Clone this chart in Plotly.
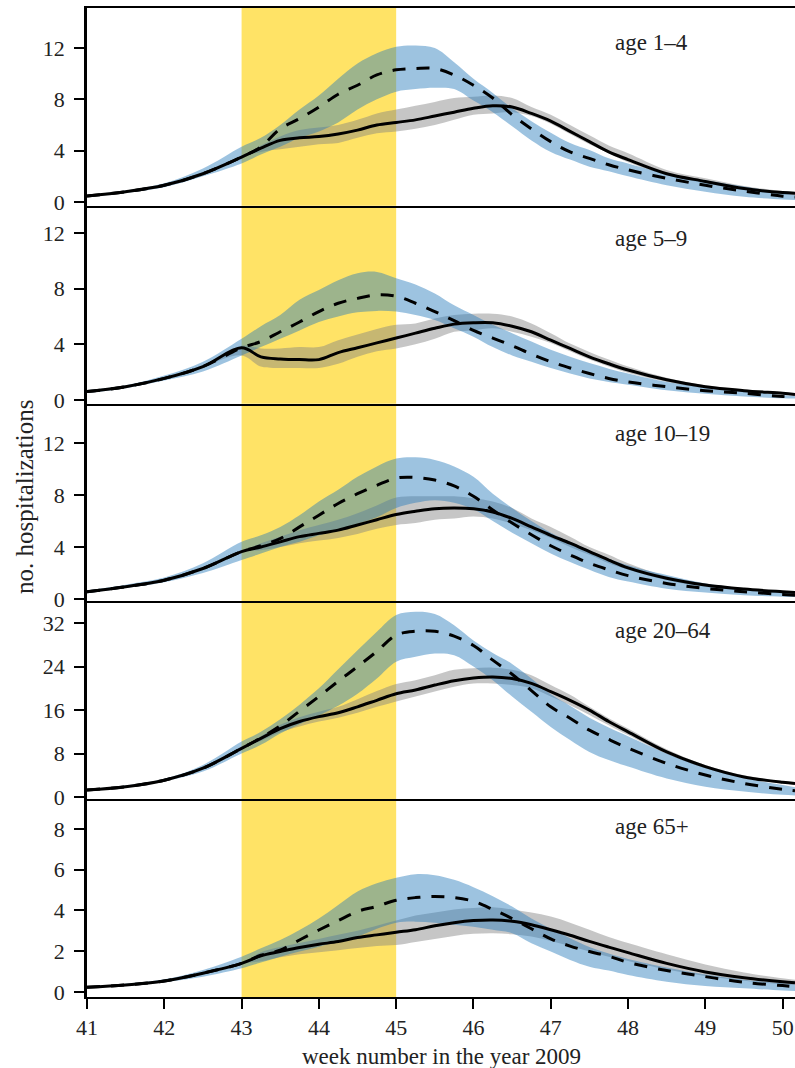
import plotly.graph_objects as go
from plotly.subplots import make_subplots

weeks = [41, 41.5, 42, 42.5, 43, 43.25, 43.5, 43.75, 44, 44.25, 44.5, 44.75, 45, 45.25, 45.5,
         45.75, 46, 46.25, 46.5, 46.75, 47, 47.25, 47.5, 47.75, 48, 48.5, 49, 49.5, 50, 50.16]

age_labels = ["age 1\u20134", "age 5\u20139", "age 10\u201319", "age 20\u201364", "age 65+"]

# age 1-4
a1_int = [0.47, 0.8, 1.3, 2.2, 3.5, 4.2, 4.8, 5.0, 5.1, 5.3, 5.6, 6.0, 6.2, 6.4, 6.7, 7.0, 7.3, 7.5, 7.4, 6.9, 6.3, 5.5, 4.7, 3.9, 3.3, 2.2, 1.6, 1.05, 0.73, 0.68]
a1_int_hi = [0.47, 0.8, 1.3, 2.2, 3.5, 4.4, 5.1, 5.6, 5.8, 6.0, 6.4, 6.9, 7.2, 7.5, 7.8, 8.1, 8.2, 8.3, 8.1, 7.4, 6.8, 6.0, 5.2, 4.4, 3.8, 2.5, 1.85, 1.25, 0.85, 0.78]
a1_int_lo = [0.47, 0.8, 1.3, 2.2, 3.5, 3.9, 4.1, 4.3, 4.5, 4.6, 5.0, 5.35, 5.5, 5.7, 6.0, 6.4, 6.8, 6.9, 7.0, 6.7, 6.1, 5.3, 4.5, 3.8, 3.1, 2.1, 1.45, 0.95, 0.6, 0.55]
a1_base = [0.47, 0.8, 1.3, 2.2, 3.5, 4.3, 5.7, 6.5, 7.4, 8.4, 9.1, 9.9, 10.3, 10.4, 10.4, 9.9, 9.1, 8.1, 6.8, 5.7, 4.7, 3.9, 3.4, 2.9, 2.5, 1.85, 1.3, 0.85, 0.45, 0.38]
a1_base_hi = [0.55, 0.9, 1.45, 2.6, 4.3, 5.0, 6.0, 7.2, 8.3, 9.6, 10.8, 11.6, 12.1, 12.2, 12.0, 10.9, 9.6, 8.5, 7.3, 6.3, 5.4, 4.6, 4.05, 3.4, 3.0, 2.2, 1.7, 1.2, 0.7, 0.55]
a1_base_lo = [0.4, 0.7, 1.15, 2.0, 3.0, 3.7, 4.3, 5.0, 5.5, 6.2, 7.2, 8.0, 8.6, 8.8, 8.9, 8.8, 7.9, 7.0, 5.9, 4.8, 3.9, 3.3, 2.75, 2.4, 2.0, 1.3, 0.8, 0.4, 0.2, 0.15]

# age 5-9
a2_int = [0.6, 0.95, 1.55, 2.4, 3.75, 3.1, 2.95, 2.9, 2.9, 3.4, 3.75, 4.1, 4.45, 4.8, 5.15, 5.45, 5.55, 5.55, 5.3, 4.9, 4.3, 3.7, 3.1, 2.6, 2.15, 1.45, 0.95, 0.67, 0.48, 0.4]
a2_int_hi = [0.6, 0.95, 1.55, 2.4, 3.9, 3.7, 3.7, 3.8, 3.8, 4.3, 4.7, 5.1, 5.4, 5.5, 5.85, 6.1, 6.2, 6.2, 6.0, 5.5, 4.8, 4.05, 3.45, 2.9, 2.4, 1.6, 1.05, 0.75, 0.55, 0.48]
a2_int_lo = [0.6, 0.95, 1.55, 2.4, 3.2, 2.4, 2.3, 2.3, 2.3, 2.6, 3.1, 3.5, 3.7, 4.0, 4.4, 4.9, 5.0, 5.15, 4.9, 4.55, 4.1, 3.5, 2.9, 2.4, 1.95, 1.3, 0.85, 0.6, 0.42, 0.36]
a2_base = [0.6, 0.95, 1.55, 2.4, 3.75, 4.2, 4.9, 5.6, 6.35, 6.95, 7.3, 7.55, 7.45, 6.95, 6.35, 5.7, 5.0, 4.45, 3.9, 3.3, 2.75, 2.3, 1.9, 1.55, 1.3, 0.95, 0.67, 0.48, 0.25, 0.2]
a2_base_hi = [0.7, 1.05, 1.75, 2.75, 4.4, 5.3, 6.1, 7.2, 7.9, 8.6, 9.1, 9.2, 8.75, 8.3, 7.65, 6.8, 6.1, 5.4, 4.8, 4.2, 3.6, 3.1, 2.65, 2.25, 1.9, 1.3, 0.9, 0.67, 0.36, 0.3]
a2_base_lo = [0.5, 0.85, 1.4, 2.05, 3.2, 3.8, 4.4, 5.0, 5.6, 6.0, 6.3, 6.4, 6.35, 6.1, 5.75, 5.15, 4.55, 3.8, 3.2, 2.75, 2.3, 1.9, 1.55, 1.3, 1.1, 0.7, 0.45, 0.25, 0.12, 0.1]

# age 10-19
a3_int = [0.56, 0.95, 1.45, 2.35, 3.65, 4.0, 4.4, 4.8, 5.05, 5.3, 5.7, 6.1, 6.5, 6.75, 6.95, 7.0, 6.95, 6.7, 6.2, 5.55, 4.9, 4.3, 3.65, 3.0, 2.4, 1.6, 1.08, 0.77, 0.56, 0.5]
a3_int_hi = [0.56, 0.95, 1.45, 2.35, 3.65, 4.3, 4.8, 5.3, 5.7, 6.1, 6.6, 7.2, 7.8, 7.9, 7.9, 7.9, 7.75, 7.5, 7.0, 6.2, 5.55, 4.8, 4.0, 3.4, 2.75, 1.75, 1.2, 0.85, 0.6, 0.55]
a3_int_lo = [0.56, 0.95, 1.45, 2.35, 3.65, 3.75, 4.0, 4.3, 4.5, 4.7, 5.0, 5.4, 5.7, 5.85, 6.1, 6.2, 6.35, 6.2, 5.8, 5.3, 4.7, 4.0, 3.4, 2.75, 2.25, 1.45, 0.95, 0.7, 0.5, 0.45]
a3_base = [0.56, 0.95, 1.45, 2.35, 3.65, 4.1, 4.65, 5.55, 6.45, 7.35, 8.1, 8.75, 9.3, 9.35, 9.15, 8.7, 7.9, 6.85, 5.85, 4.95, 4.1, 3.4, 2.75, 2.25, 1.8, 1.2, 0.82, 0.56, 0.36, 0.3]
a3_base_hi = [0.65, 1.1, 1.65, 2.75, 4.4, 4.9, 5.55, 6.45, 7.5, 8.4, 9.4, 10.2, 10.8, 10.9, 10.7, 10.2, 9.4, 8.1, 7.0, 6.0, 5.1, 4.4, 3.75, 3.1, 2.6, 1.85, 1.2, 0.82, 0.56, 0.5]
a3_base_lo = [0.45, 0.85, 1.3, 2.0, 3.0, 3.5, 4.0, 4.4, 4.9, 5.3, 5.8, 6.3, 7.0, 7.4, 7.6, 7.4, 6.9, 6.0, 5.1, 4.3, 3.5, 2.85, 2.25, 1.7, 1.35, 0.8, 0.5, 0.3, 0.18, 0.15]

# age 20-64
a4_int = [1.3, 1.9, 3.1, 5.3, 8.95, 10.8, 12.6, 13.9, 14.8, 15.5, 16.6, 17.8, 19.0, 19.7, 20.6, 21.4, 21.9, 22.1, 21.8, 20.9, 19.4, 17.8, 16.0, 13.9, 12.0, 8.3, 5.6, 3.7, 2.7, 2.5]
a4_int_hi = [1.3, 1.9, 3.1, 5.3, 8.95, 11.2, 13.3, 14.7, 15.7, 16.6, 18.0, 19.5, 20.8, 21.5, 22.4, 23.4, 23.7, 23.8, 23.4, 22.4, 20.6, 18.8, 16.6, 14.5, 12.6, 8.8, 5.9, 4.0, 2.9, 2.7]
a4_int_lo = [1.3, 1.9, 3.1, 5.3, 8.95, 10.3, 11.9, 13.0, 13.9, 14.6, 15.5, 16.6, 17.6, 18.5, 19.4, 20.3, 20.9, 20.9, 20.6, 20.0, 18.5, 16.9, 15.1, 13.2, 11.4, 7.9, 5.3, 3.5, 2.5, 2.3]
a4_base = [1.3, 1.9, 3.1, 5.3, 8.95, 10.9, 13.1, 15.8, 18.5, 21.3, 24.0, 26.8, 29.8, 30.5, 30.5, 29.6, 27.9, 25.2, 22.6, 19.6, 16.6, 14.5, 12.3, 10.6, 9.0, 6.2, 4.05, 2.5, 1.4, 1.15]
a4_base_hi = [1.45, 2.1, 3.35, 5.9, 10.2, 12.0, 14.3, 17.0, 20.0, 23.5, 27.0, 30.4, 33.5, 34.1, 33.7, 31.6, 28.8, 26.5, 24.5, 21.8, 18.9, 16.8, 14.6, 12.8, 11.2, 8.0, 5.4, 3.5, 2.2, 1.8]
a4_base_lo = [1.15, 1.75, 2.9, 4.7, 8.0, 9.6, 11.7, 13.4, 15.0, 16.8, 19.0, 21.8, 24.9, 25.8, 26.4, 26.1, 24.0, 21.5, 18.5, 15.7, 12.9, 10.5, 8.3, 6.8, 5.6, 3.4, 1.9, 1.0, 0.4, 0.3]

# age 65+
a5_int = [0.23, 0.34, 0.54, 0.92, 1.4, 1.77, 1.98, 2.18, 2.34, 2.47, 2.67, 2.8, 2.93, 3.05, 3.25, 3.4, 3.5, 3.53, 3.47, 3.3, 3.05, 2.78, 2.48, 2.2, 1.93, 1.4, 0.98, 0.7, 0.5, 0.45]
a5_int_hi = [0.23, 0.34, 0.54, 0.92, 1.4, 1.95, 2.2, 2.4, 2.6, 2.8, 3.0, 3.25, 3.5, 3.75, 3.9, 4.05, 4.12, 4.15, 4.05, 3.9, 3.7, 3.4, 3.05, 2.7, 2.4, 1.85, 1.35, 0.95, 0.67, 0.6]
a5_int_lo = [0.23, 0.34, 0.54, 0.92, 1.4, 1.5, 1.7, 1.85, 1.95, 2.05, 2.15, 2.25, 2.3, 2.45, 2.6, 2.75, 2.85, 2.88, 2.83, 2.72, 2.5, 2.25, 1.98, 1.72, 1.52, 1.1, 0.78, 0.55, 0.38, 0.34]
a5_base = [0.23, 0.34, 0.54, 0.92, 1.4, 1.8, 2.05, 2.55, 3.04, 3.5, 3.95, 4.2, 4.5, 4.63, 4.68, 4.63, 4.45, 4.05, 3.6, 3.1, 2.6, 2.25, 1.98, 1.75, 1.45, 1.05, 0.75, 0.47, 0.31, 0.26]
a5_base_hi = [0.28, 0.4, 0.62, 1.08, 1.73, 2.14, 2.55, 3.04, 3.6, 4.27, 4.93, 5.33, 5.6, 5.78, 5.73, 5.5, 5.14, 4.7, 4.19, 3.6, 3.1, 2.63, 2.2, 1.88, 1.62, 1.2, 0.86, 0.6, 0.43, 0.36]
a5_base_lo = [0.18, 0.3, 0.48, 0.75, 1.16, 1.44, 1.73, 1.98, 2.22, 2.47, 2.72, 3.1, 3.4, 3.45, 3.4, 3.3, 3.2, 3.05, 2.88, 2.39, 1.98, 1.57, 1.24, 1.05, 0.83, 0.5, 0.29, 0.18, 0.07, 0.05]

y_ranges = [[-0.3, 15.12], [-0.26, 13.95], [-0.18, 15.03], [-0.4, 36.0], [-0.25, 9.46]]
y_ticks = [[0, 4, 8, 12], [0, 4, 8, 12], [0, 4, 8, 12], [0, 8, 16, 24, 32], [0, 2, 4, 6, 8]]
label_y = [0.828, 0.837, 0.851, 0.855, 0.86]
week_ticks = [41, 42, 43, 44, 45, 46, 47, 48, 49, 50]
band_weeks = [43, 45]

panels = [
    (a1_int, a1_int_lo, a1_int_hi, a1_base, a1_base_lo, a1_base_hi),
    (a2_int, a2_int_lo, a2_int_hi, a2_base, a2_base_lo, a2_base_hi),
    (a3_int, a3_int_lo, a3_int_hi, a3_base, a3_base_lo, a3_base_hi),
    (a4_int, a4_int_lo, a4_int_hi, a4_base, a4_base_lo, a4_base_hi),
    (a5_int, a5_int_lo, a5_int_hi, a5_base, a5_base_lo, a5_base_hi),
]

FONT = "Liberation Serif"
TXT = "#222222"
GREY_FILL = "rgba(128,128,128,0.45)"
BLUE_FILL = "rgba(37,122,186,0.45)"
YELLOW = "rgb(255,227,102)"

fig = make_subplots(rows=5, cols=1, shared_xaxes=True, vertical_spacing=0)

for i, (s, slo, shi, d, dlo, dhi) in enumerate(panels):
    r = i + 1
    fig.add_trace(go.Scatter(x=weeks, y=slo, mode="lines", line=dict(width=0, shape="spline"),
                             hoverinfo="skip", showlegend=False), row=r, col=1)
    fig.add_trace(go.Scatter(x=weeks, y=shi, mode="lines", line=dict(width=0, shape="spline"),
                             fill="tonexty", fillcolor=GREY_FILL, hoverinfo="skip",
                             showlegend=False), row=r, col=1)
    fig.add_trace(go.Scatter(x=weeks, y=dlo, mode="lines", line=dict(width=0, shape="spline"),
                             hoverinfo="skip", showlegend=False), row=r, col=1)
    fig.add_trace(go.Scatter(x=weeks, y=dhi, mode="lines", line=dict(width=0, shape="spline"),
                             fill="tonexty", fillcolor=BLUE_FILL, hoverinfo="skip",
                             showlegend=False), row=r, col=1)
    fig.add_trace(go.Scatter(x=weeks, y=s, mode="lines",
                             line=dict(color="black", width=3, shape="spline"),
                             showlegend=False), row=r, col=1)
    fig.add_trace(go.Scatter(x=weeks, y=d, mode="lines",
                             line=dict(color="black", width=3, shape="spline", dash="13px,11px"),
                             showlegend=False), row=r, col=1)

    xa = "x" if r == 1 else f"x{r}"
    ya = "y" if r == 1 else f"y{r}"
    fig.add_shape(type="rect", xref=xa, yref=f"{ya} domain", x0=band_weeks[0], x1=band_weeks[1],
                  y0=0, y1=1, fillcolor=YELLOW, line=dict(width=0), layer="below")
    fig.add_annotation(text=age_labels[i], xref="paper", yref=f"{ya} domain", x=0.743, y=label_y[i],
                       xanchor="left", yanchor="middle", showarrow=False,
                       font=dict(family=FONT, size=23, color=TXT))

    fig.update_yaxes(range=y_ranges[i], tickvals=y_ticks[i], showline=True, linecolor="black",
                     linewidth=2.5, ticks="outside", ticklen=10, tickwidth=2, tickcolor="black",
                     showgrid=False, zeroline=False, ticklabelstandoff=5,
                     tickfont=dict(family=FONT, size=22, color=TXT), row=r, col=1)
    fig.update_xaxes(range=[41, 50.16], showline=True, mirror=(r == 1), linecolor="black",
                     linewidth=2 if r == 5 else 1.6, showgrid=False, zeroline=False,
                     ticks="outside" if r == 5 else "", ticklen=10, tickwidth=2, tickcolor="black",
                     tickvals=week_ticks, showticklabels=(r == 5), ticklabelstandoff=0,
                     tickfont=dict(family=FONT, size=22, color=TXT), row=r, col=1)

fig.add_annotation(text="no. hospitalizations", xref="paper", yref="paper", x=-0.0876, y=0.5056,
                   textangle=-90, showarrow=False, xanchor="center", yanchor="middle",
                   font=dict(family=FONT, size=25, color=TXT))
fig.add_annotation(text="week number in the year 2009", xref="paper", yref="paper", x=0.5, y=-0.0598,
                   showarrow=False, xanchor="center", yanchor="middle",
                   font=dict(family=FONT, size=23, color=TXT))

fig.update_layout(width=795, height=1068, margin=dict(l=87, r=0, t=8, b=71),
                  paper_bgcolor="white", plot_bgcolor="white", hovermode=False, showlegend=False)

fig.write_html("out.html")
